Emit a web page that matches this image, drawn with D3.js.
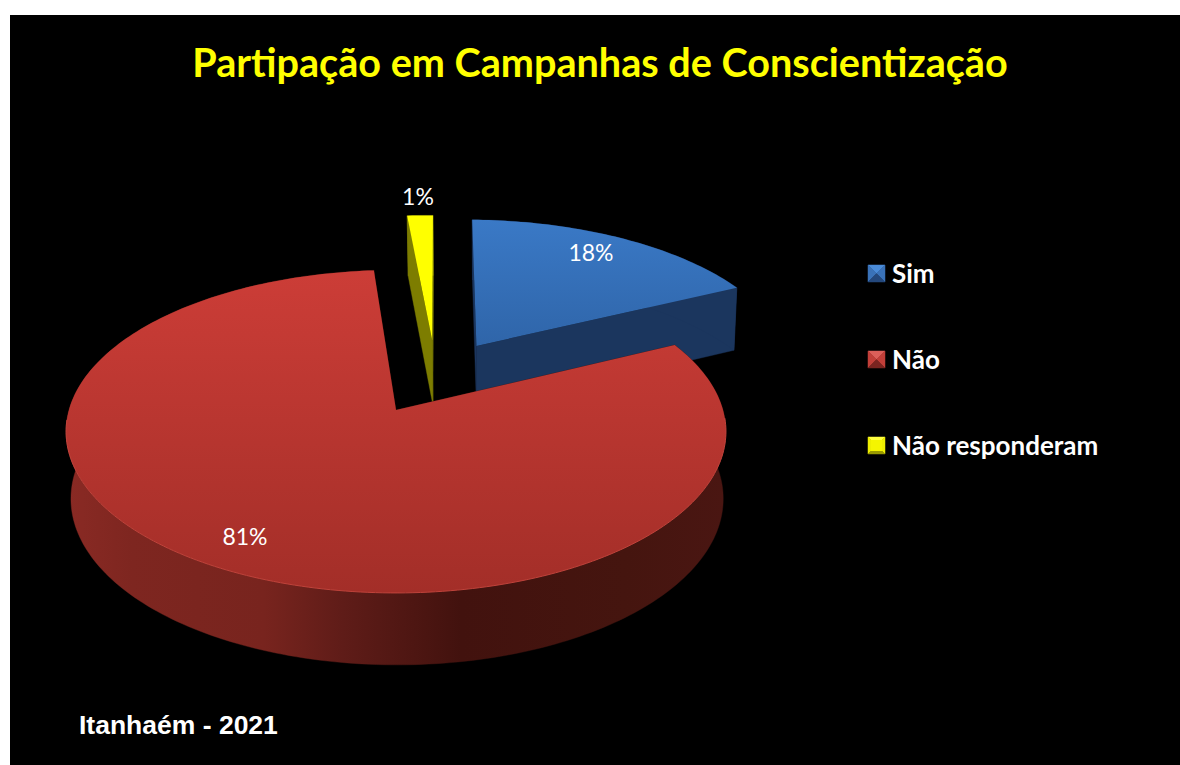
<!DOCTYPE html>
<html><head><meta charset="utf-8">
<script src="https://cdn.jsdelivr.net/npm/d3@7"></script>
<style>html,body{margin:0;padding:0;background:#fff}svg{display:block}</style>
</head><body><svg id="c" width="1180" height="765"></svg>
<script>
const categories = ["Sim", "Não", "Não responderam"];
const values = [17.6, 80.9, 1.5];
const valueLabels = ["18%", "81%", "1%"];
const titleText = "Partipação em Campanhas de Conscientização";
const footText = "Itanhaém - 2021";

const svg = d3.select("#c");
const defs = svg.append("defs");
function vgrad(id, stops){
  const g = defs.append("linearGradient").attr("id",id).attr("x1",0).attr("y1",0).attr("x2",0).attr("y2",1);
  stops.forEach(s=>g.append("stop").attr("offset",s[0]).attr("stop-color",s[1]));
}
vgrad("topB",[[0,"#3a79c6"],[1,"#2f65a9"]]);
vgrad("topR",[[0,"#cc3d37"],[1,"#a32e28"]]);
const wallR = defs.append("linearGradient").attr("id","wallR").attr("gradientUnits","userSpaceOnUse")
  .attr("x1",66).attr("x2",725).attr("y1",0).attr("y2",0);
[[0,"#8a2a24"],[0.1,"#7e2620"],[0.3,"#78241e"],[0.42,"#5f1c18"],[0.6,"#42120e"],[0.85,"#45150f"],[1,"#4a1612"]]
  .forEach(s=>wallR.append("stop").attr("offset",s[0]).attr("stop-color",s[1]));

svg.append("rect").attr("x",10).attr("y",15).attr("width",1170).attr("height",750).attr("fill","#000");

// perspective projection of the pie plane (unit radius disk, v towards the viewer)
const k = 0.133, xScale = d3.scaleLinear().domain([0,1]).range([396,723]),
      yScale = d3.scaleLinear().domain([0,1]).range([410,568.6]);
const rot = 1.0 * Math.PI/180;
const explode = 0.25;
function topPt(u,v){const w=1-k*v;return [xScale(u/w),yScale(v/w)];}
function botPt(u,v){
  const p=topPt(u,v), d=66.6/(1-0.0743*v);
  return [p[0]+(490-p[0])*0.0115,p[1]+d];
}
const pie = d3.pie().sort(null).value(d=>d).startAngle(rot).endAngle(rot+2*Math.PI);
const arcs = pie(values);
const dir = a=>[Math.sin(a),-Math.cos(a)];
const mid = a=>(a.startAngle+a.endAngle)/2;
const big = d3.greatestIndex(values);
const bigDir = dir(mid(arcs[big]));
arcs.forEach(a=>{const d=dir(mid(a));a.c=[explode*(d[0]-bigDir[0]),explode*(d[1]-bigDir[1])];});
function rim(a){
  const n=Math.max(2,Math.ceil((a.endAngle-a.startAngle)/0.02)),pts=[];
  for(let i=0;i<=n;i++){
    const t=a.startAngle+(a.endAngle-a.startAngle)*i/n,d=dir(t);
    pts.push([a.c[0]+d[0],a.c[1]+d[1]]);
  }
  return pts;
}
const line=d3.line();
const poly=(g,ps,fill)=>g.append("path").attr("d",line(ps)+"Z").attr("fill",fill).attr("stroke",fill).attr("stroke-width",0.4);
const styles=[
  {top:"url(#topB)",side:"#1b365e",wall:"#1b365e"},
  {top:"url(#topR)",side:"#4a1612",wall:"url(#wallR)"},
  {top:"#ffff00",side:"#7d7d00",wall:"#7d7d00"}
];
const g=svg.append("g");
[0,2,1].forEach(i=>{
  const a=arcs[i],s=styles[i],R=rim(a),c=a.c;
  [R[0],R[R.length-1]].forEach(e=>poly(g,[topPt(c[0],c[1]),topPt(e[0],e[1]),botPt(e[0],e[1]),botPt(c[0],c[1])],s.side));
  const tp=R.map(p=>topPt(p[0],p[1])),bt=R.map(p=>botPt(p[0],p[1])).reverse();
  poly(g,tp.concat(bt),s.wall);
  poly(g,[topPt(c[0],c[1])].concat(tp),s.top).attr("stroke","none");
  if(i===big){
    const vis=R.filter(p=>p[1]>0.05).map(p=>topPt(p[0],p[1]));
    g.append("path").attr("d",line(vis)).attr("fill","none").attr("stroke","#c0433b").attr("stroke-width",1);
  }
});
const labelPos=[[591,252],[245,536],[418,196]];
svg.append("g").selectAll("text").data(valueLabels).join("text")
  .attr("x",(d,i)=>labelPos[i][0]).attr("y",(d,i)=>labelPos[i][1])
  .attr("text-anchor","middle").attr("dominant-baseline","central")
  .attr("fill","#fff").attr("font-family","Lato,sans-serif").attr("font-size",23).text(d=>d);
svg.append("text").attr("x",600).attr("y",77).attr("text-anchor","middle").attr("fill","#ffff00")
  .attr("font-family","Lato,sans-serif").attr("font-weight",700).attr("font-size",39.6).text(titleText);
svg.append("text").attr("x",79).attr("y",734).attr("fill","#fff")
  .attr("font-family","'Liberation Sans',sans-serif").attr("font-weight",700).attr("font-size",26.5).text(footText);
const legY=d3.scalePoint().domain(categories).range([274,446]);
const legCols=[["#4a8bd8","#3a72b8","#3a72b8","#24487c"],["#dc5f59","#c23f39","#c23f39","#7a2420"],["#ffff40","#eeee00","#eeee00","#9a9a00"]];
const lg=svg.append("g");
categories.forEach((c,i)=>{
  const y=legY(c),x=868,S=17,cy=y-9,cols=legCols[i];
  const tl=[x,cy],tr=[x+S,cy],br=[x+S,cy+S],bl=[x,cy+S],m=[x+S/2,cy+S/2];
  const tri=(ps,f)=>lg.append("path").attr("d",line(ps)+"Z").attr("fill",f).attr("stroke",f).attr("stroke-width",0.5);
  tri([tl,tr,m],cols[0]);
  tri([tl,bl,m],cols[1]);
  tri([tr,br,m],cols[2]);
  tri([bl,br,m],cols[3]);
  if(i===2) lg.append("rect").attr("x",x+3).attr("y",cy+3).attr("width",S-6).attr("height",S-6).attr("fill","#f5f500");
  lg.append("text").attr("x",892).attr("y",y+8.5).attr("fill","#fff")
    .attr("font-family","Lato,sans-serif").attr("font-weight",700).attr("font-size",26).text(c);
});
</script></body></html>
